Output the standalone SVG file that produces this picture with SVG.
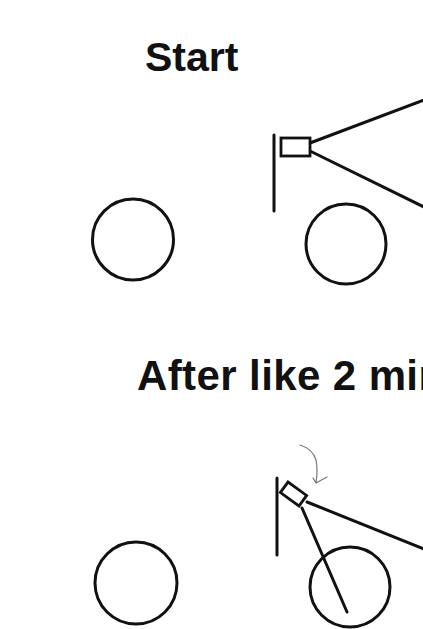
<svg xmlns="http://www.w3.org/2000/svg" width="423" height="629" viewBox="0 0 423 629">
<style>
.ln{stroke:#111;stroke-width:3;fill:none;stroke-linecap:round}
.sh{stroke:#111;stroke-width:2.8;fill:#fff}
.t{font-family:"Liberation Sans",Arial,sans-serif;font-weight:bold;fill:#111}
.ar{stroke:#777;stroke-width:1.2;fill:none;stroke-linecap:round;stroke-linejoin:round}
</style>
<rect width="423" height="629" fill="#fff"/>
<text class="t" x="145" y="71" font-size="41">Start</text>
<text class="t" x="137" y="390" font-size="42" letter-spacing="0.4">After like 2 min</text>
<g id="connectors">
<line class="ln" x1="310" y1="143" x2="424" y2="100"/>
<line class="ln" x1="310" y1="151" x2="424" y2="207"/>
<line class="ln" x1="307" y1="502" x2="424" y2="549"/>
<line class="ln" x1="302" y1="508" x2="347" y2="612"/>
<path class="ar" d="M300 445 Q313 449 316 460 Q318 470 316 483 M316 483 L327 477 M316 483 L313 478"/>
</g>
<g id="top-wall"><line class="ln" x1="274" y1="135" x2="274" y2="211"/></g>
<g id="top-box"><rect class="sh" x="281" y="138" width="29" height="18"/></g>
<g id="top-circle-left"><circle class="ln" cx="133" cy="239.5" r="40.5"/></g>
<g id="top-circle-right"><circle class="ln" cx="346" cy="244" r="40"/></g>
<g id="bottom-wall"><line class="ln" x1="277" y1="478" x2="277" y2="555"/></g>
<g id="bottom-box"><rect class="sh" x="-11.5" y="-6.5" width="23" height="13" transform="translate(293.5 494) rotate(36)"/></g>
<g id="bottom-circle-left"><circle class="ln" cx="136" cy="583" r="41"/></g>
<g id="bottom-circle-right"><circle class="ln" cx="350" cy="587" r="40"/></g>
</svg>
